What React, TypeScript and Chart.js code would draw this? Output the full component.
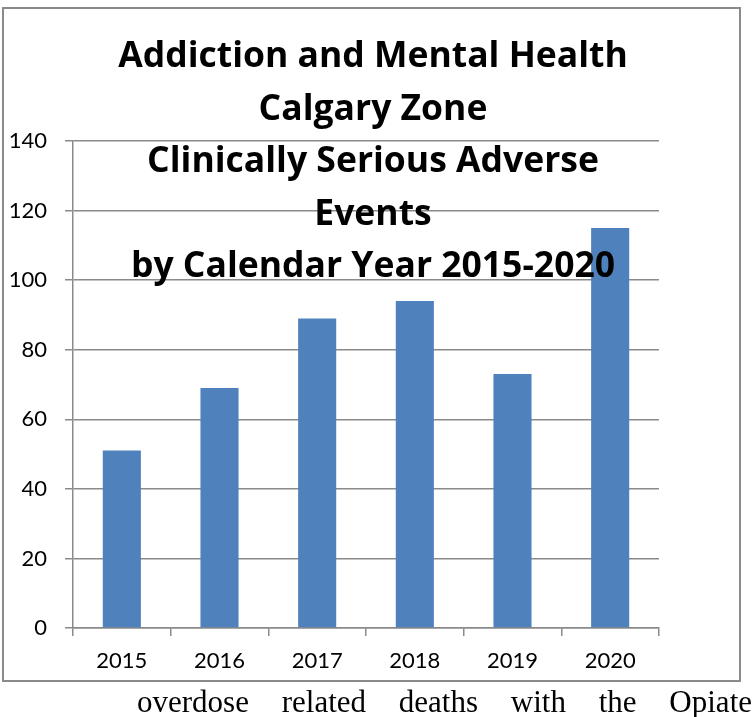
import React, { useEffect, useRef } from "react";
import { Chart, registerables } from "chart.js";

Chart.register(...registerables);

const categories = ["2015", "2016", "2017", "2018", "2019", "2020"];
const values = [51, 69, 89, 94, 73, 115];
const titleLines = [
  "Addiction and Mental Health",
  "Calgary Zone",
  "Clinically Serious Adverse",
  "Events",
  "by Calendar Year 2015-2020",
];
const yMin = 0;
const yMax = 140;
const yStep = 20;
const bodyText = "overdose related deaths with the Opiate";

const FONT = "Lato, 'Noto Sans', sans-serif";
const TITLE_FONT = "'Open Sans', 'Noto Sans', sans-serif";

const overlayTitle = {
  id: "overlayTitle",
  afterDraw(chart: any) {
    const ctx = chart.ctx;
    ctx.save();
    ctx.fillStyle = "#000";
    ctx.font = `bold 35.5px ${TITLE_FONT}`;
    ctx.textAlign = "center";
    ctx.textBaseline = "alphabetic";
    const cx = 373;
    const firstBaseline = 67;
    const lh = 52.5;
    titleLines.forEach((t, i) => ctx.fillText(t, cx, firstBaseline + i * lh));
    ctx.restore();
  },
};

export default function App() {
  const ref = useRef<HTMLCanvasElement | null>(null);
  useEffect(() => {
    if (!ref.current) return;
    const grid = "#8a8a8a";
    const chart = new Chart(ref.current, {
      type: "bar",
      data: {
        labels: categories,
        datasets: [
          {
            data: values,
            backgroundColor: "#4F81BD",
            borderWidth: 0,
            categoryPercentage: 1,
            barPercentage: 0.39,
          },
        ],
      },
      options: {
        responsive: false,
        animation: false,
        devicePixelRatio: 1,
        layout: { padding: { left: 0, top: 141, right: 97, bottom: 0 } },
        plugins: {
          legend: { display: false },
          title: { display: false },
          tooltip: { enabled: false },
        },
        scales: {
          x: {
            afterFit: (s: any) => {
              s.height = 89;
            },
            grid: {
              drawOnChartArea: false,
              drawTicks: true,
              tickLength: 8,
              color: grid,
              lineWidth: 1.5,
            },
            border: { color: grid, width: 1.5 },
            ticks: {
              color: "#000",
              font: { family: FONT, size: 22 },
              padding: 12,
              maxRotation: 0,
            },
          },
          y: {
            min: yMin,
            max: yMax,
            afterFit: (s: any) => {
              s.width = 73;
            },
            grid: {
              color: grid,
              lineWidth: 1.5,
              drawTicks: true,
              tickLength: 8,
            },
            border: { color: grid, width: 1.5 },
            ticks: {
              stepSize: yStep,
              color: "#000",
              font: { family: FONT, size: 22 },
              padding: 18,
            },
          },
        },
      },
      plugins: [overlayTitle],
    });
    return () => chart.destroy();
  }, []);

  return (
    <div
      style={{
        position: "absolute",
        left: 0,
        top: 0,
        width: 756,
        height: 717,
        overflow: "hidden",
        background: "#fff",
      }}
    >
      <div
        style={{
          position: "absolute",
          left: 2,
          top: 7,
          width: 739,
          height: 675,
          boxSizing: "border-box",
          border: "2px solid #8a8a8a",
        }}
      />
      <canvas
        ref={ref}
        width={756}
        height={717}
        style={{ position: "absolute", left: 0, top: 0, width: 756, height: 717 }}
      />
      <div
        style={{
          position: "absolute",
          left: 137,
          top: 684,
          width: 615,
          fontFamily: "'Liberation Serif', 'Times New Roman', serif",
          fontSize: 31,
          lineHeight: "36px",
          textAlign: "justify",
          textAlignLast: "justify",
          color: "#000",
          whiteSpace: "nowrap",
        }}
      >
        {bodyText}
      </div>
    </div>
  );
}
